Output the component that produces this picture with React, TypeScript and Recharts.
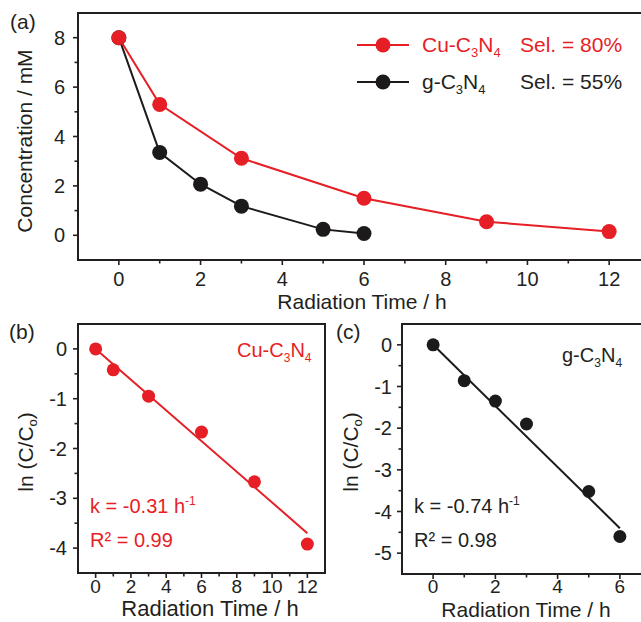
import React from 'react';
import { ComposedChart, Line, XAxis, YAxis, ReferenceArea } from 'recharts';

const FONT = '"Liberation Sans", Arial, Helvetica, sans-serif';
const RED = '#e61e25';
const BLK = '#1c1a1a';
const AX = '#231f20';

// ---- Panel (a): concentration vs time ----
const timeCu = [0, 1, 3, 6, 9, 12];
const concCu = [8, 5.3, 3.12, 1.5, 0.55, 0.15];
const timeG = [0, 1, 2, 3, 5, 6];
const concG = [8, 3.35, 2.07, 1.18, 0.24, 0.07];
const ticksAX = [0, 1, 2, 3, 4, 5, 6, 7, 8, 9, 10, 11, 12];
const majorsAX = [0, 2, 4, 6, 8, 10, 12];
const ticksAY = [0, 1, 2, 3, 4, 5, 6, 7, 8];
const majorsAY = [0, 2, 4, 6, 8];

// ---- Panel (b): ln(C/Co) Cu-C3N4 ----
const lnCu = [0, -0.42, -0.95, -1.67, -2.67, -3.92];
const fitCuX = [0, 12];
const fitCuY = [0, -3.7];
const ticksBX = [0, 1, 2, 3, 4, 5, 6, 7, 8, 9, 10, 11, 12];
const majorsBX = [0, 2, 4, 6, 8, 10, 12];
const ticksBY = [0, -0.5, -1, -1.5, -2, -2.5, -3, -3.5, -4];
const majorsBY = [0, -1, -2, -3, -4];

// ---- Panel (c): ln(C/Co) g-C3N4 ----
const lnG = [0, -0.86, -1.35, -1.9, -3.52, -4.6];
const fitGX = [0, 6];
const fitGY = [0, -4.4];
const ticksCX = [0, 1, 2, 3, 4, 5, 6];
const majorsCX = [0, 2, 4, 6];
const ticksCY = [0, -0.5, -1, -1.5, -2, -2.5, -3, -3.5, -4, -4.5, -5];
const majorsCY = [0, -1, -2, -3, -4, -5];

const toPts = (xs: number[], ys: number[]) => xs.map((x, i) => ({ x, y: ys[i] }));

function makeXTick(majors: number[], fs: number, off: number) {
  return (p: any) => {
    const v = p.payload.value;
    const maj = majors.includes(v);
    const ay = p.y - off;
    return (
      <g>
        <line x1={p.x} x2={p.x} y1={ay} y2={ay + (maj ? 5 : 3.5)} stroke={AX} strokeWidth={1.6} />
        {maj && (
          <text x={p.x} y={p.y} dy="0.71em" textAnchor="middle" fontSize={fs} fontFamily={FONT} fill={AX}>
            {String(v)}
          </text>
        )}
      </g>
    );
  };
}

function makeYTick(majors: number[], fs: number, off: number) {
  return (p: any) => {
    const v = p.payload.value;
    const maj = majors.includes(v);
    const ax = p.x + off;
    return (
      <g>
        <line x1={ax - (maj ? 5 : 3.5)} x2={ax} y1={p.y} y2={p.y} stroke={AX} strokeWidth={1.6} />
        {maj && (
          <text x={p.x} y={p.y} dy="0.355em" textAnchor="end" fontSize={fs} fontFamily={FONT} fill={AX}>
            {String(v)}
          </text>
        )}
      </g>
    );
  };
}

const axisLine = { stroke: AX, strokeWidth: 2 };

function Formula({ x, y, prefix, fill, fs }: any) {
  const s = Math.round(fs * 0.62);
  return (
    <text x={x} y={y} fill={fill} fontSize={fs} fontFamily={FONT}>
      {prefix}C
      <tspan dy={5} fontSize={s}>3</tspan>
      <tspan dy={-5}>N</tspan>
      <tspan dy={5} fontSize={s}>4</tspan>
    </text>
  );
}

function Overlay() {
  return (
    <svg width={641} height={622} style={{ position: 'absolute', left: 0, top: 0, pointerEvents: 'none' }}>
      {/* panel (a) */}
      <text x={10} y={29} fontSize={21} fontFamily={FONT} fill={AX}>(a)</text>
      <text transform="translate(32,141) rotate(-90)" textAnchor="middle" fontSize={21} fontFamily={FONT} fill={AX}>
        Concentration / mM
      </text>
      <text x={362} y={309} textAnchor="middle" fontSize={21} fontFamily={FONT} fill={AX}>Radiation Time / h</text>
      <line x1={357} x2={409} y1={45} y2={45} stroke={RED} strokeWidth={2} />
      <circle cx={383} cy={45} r={7.5} fill={RED} />
      <Formula x={422} y={52} prefix="Cu-" fill={RED} fs={21} />
      <text x={520} y={52} fontSize={21} fontFamily={FONT} fill={RED}>Sel. = 80%</text>
      <line x1={357} x2={409} y1={82} y2={82} stroke={BLK} strokeWidth={2} />
      <circle cx={383} cy={82} r={7.5} fill={BLK} />
      <Formula x={422} y={89} prefix="g-" fill={AX} fs={21} />
      <text x={520} y={89} fontSize={21} fontFamily={FONT} fill={AX}>Sel. = 55%</text>

      {/* panel (b) */}
      <text x={9} y={339} fontSize={21} fontFamily={FONT} fill={AX}>(b)</text>
      <text transform="translate(33,452) rotate(-90)" textAnchor="middle" fontSize={21} fontFamily={FONT} fill={AX}>
        ln (C/C<tspan dy={4} fontSize={13}>o</tspan><tspan dy={-4}>)</tspan>
      </text>
      <text x={210} y={616} textAnchor="middle" fontSize={22} fontFamily={FONT} fill={AX}>Radiation Time / h</text>
      <Formula x={237} y={357} prefix="Cu-" fill={RED} fs={20} />
      <text x={90} y={513} fontSize={20} fontFamily={FONT} fill={RED}>
        k = -0.31 h<tspan dy={-8} fontSize={12}>-1</tspan>
      </text>
      <text x={90} y={547} fontSize={20} fontFamily={FONT} fill={RED}>R² = 0.99</text>

      {/* panel (c) */}
      <text x={336} y={339} fontSize={21} fontFamily={FONT} fill={AX}>(c)</text>
      <text transform="translate(358,452) rotate(-90)" textAnchor="middle" fontSize={21} fontFamily={FONT} fill={AX}>
        ln (C/C<tspan dy={4} fontSize={13}>o</tspan><tspan dy={-4}>)</tspan>
      </text>
      <text x={526} y={617} textAnchor="middle" fontSize={21} fontFamily={FONT} fill={AX}>Radiation Time / h</text>
      <Formula x={562} y={362} prefix="g-" fill={AX} fs={20} />
      <text x={414} y={513} fontSize={20} fontFamily={FONT} fill={AX}>
        k = -0.74 h<tspan dy={-8} fontSize={12}>-1</tspan>
      </text>
      <text x={414} y={547} fontSize={20} fontFamily={FONT} fill={AX}>R² = 0.98</text>
    </svg>
  );
}

export default function App() {
  const cuA = toPts(timeCu, concCu);
  const gA = toPts(timeG, concG);
  const cuB = toPts(timeCu, lnCu);
  const fitB = toPts(fitCuX, fitCuY);
  const gC = toPts(timeG, lnG);
  const fitC = toPts(fitGX, fitGY);

  return (
    <div style={{ position: 'absolute', left: 0, top: 0, width: 641, height: 622, overflow: 'hidden', background: '#fff' }}>
      {/* (a) */}
      <div style={{ position: 'absolute', left: 0, top: 0 }}>
        <ComposedChart width={700} height={300} margin={{ top: 13, right: 50, bottom: 0, left: 0 }}>
          <XAxis type="number" dataKey="x" domain={[-1, 13]} ticks={ticksAX} interval={0} allowDataOverflow
            height={40} tickSize={5} tickMargin={7} tickLine={false} axisLine={axisLine}
            tick={makeXTick(majorsAX, 20, 12)} />
          <YAxis type="number" domain={[-1, 9]} ticks={ticksAY} interval={0} allowDataOverflow
            width={78} tickSize={5} tickMargin={8} tickLine={false} axisLine={axisLine}
            tick={makeYTick(majorsAY, 20, 13)} />
          <ReferenceArea x1={-1} x2={13} y1={-1} y2={9} fill="none" stroke={AX} strokeWidth={2} />
          <Line data={gA} dataKey="y" type="linear" stroke={BLK} strokeWidth={2}
            dot={{ r: 7.5, fill: BLK, stroke: BLK, strokeWidth: 0 }} isAnimationActive={false} />
          <Line data={cuA} dataKey="y" type="linear" stroke={RED} strokeWidth={2}
            dot={{ r: 7.5, fill: RED, stroke: RED, strokeWidth: 0 }} isAnimationActive={false} />
        </ComposedChart>
      </div>

      {/* (b) */}
      <div style={{ position: 'absolute', left: 0, top: 300 }}>
        <ComposedChart width={340} height={322} margin={{ top: 24, right: 15, bottom: 0, left: 0 }}>
          <XAxis type="number" dataKey="x" domain={[-1, 13]} ticks={ticksBX} interval={0} allowDataOverflow
            height={49} tickSize={5} tickMargin={2} tickLine={false} axisLine={axisLine}
            tick={makeXTick(majorsBX, 19, 7)} />
          <YAxis type="number" domain={[-4.5, 0.5]} ticks={ticksBY} interval={0} allowDataOverflow
            width={78} tickSize={5} tickMargin={6} tickLine={false} axisLine={axisLine}
            tick={makeYTick(majorsBY, 20, 11)} />
          <ReferenceArea x1={-1} x2={13} y1={-4.5} y2={0.5} fill="none" stroke={AX} strokeWidth={2} />
          <Line data={cuB} dataKey="y" type="linear" stroke="none" strokeWidth={0}
            dot={{ r: 6.5, fill: RED, stroke: RED, strokeWidth: 0 }} isAnimationActive={false} />
          <Line data={fitB} dataKey="y" type="linear" stroke={RED} strokeWidth={2} dot={false} isAnimationActive={false} />
        </ComposedChart>
      </div>

      {/* (c) */}
      <div style={{ position: 'absolute', left: 330, top: 300 }}>
        <ComposedChart width={340} height={322} margin={{ top: 24, right: 19, bottom: 0, left: 0 }}>
          <XAxis type="number" dataKey="x" domain={[-1, 7]} ticks={ticksCX} interval={0} allowDataOverflow
            height={48} tickSize={5} tickMargin={1} tickLine={false} axisLine={axisLine}
            tick={makeXTick(majorsCX, 19, 6)} />
          <YAxis type="number" domain={[-5.5, 0.5]} ticks={ticksCY} interval={0} allowDataOverflow
            width={72} tickSize={5} tickMargin={5} tickLine={false} axisLine={axisLine}
            tick={makeYTick(majorsCY, 20, 10)} />
          <ReferenceArea x1={-1} x2={7} y1={-5.5} y2={0.5} fill="none" stroke={AX} strokeWidth={2} />
          <Line data={gC} dataKey="y" type="linear" stroke="none" strokeWidth={0}
            dot={{ r: 6.5, fill: BLK, stroke: BLK, strokeWidth: 0 }} isAnimationActive={false} />
          <Line data={fitC} dataKey="y" type="linear" stroke={BLK} strokeWidth={2} dot={false} isAnimationActive={false} />
        </ComposedChart>
      </div>

      <Overlay />
    </div>
  );
}
